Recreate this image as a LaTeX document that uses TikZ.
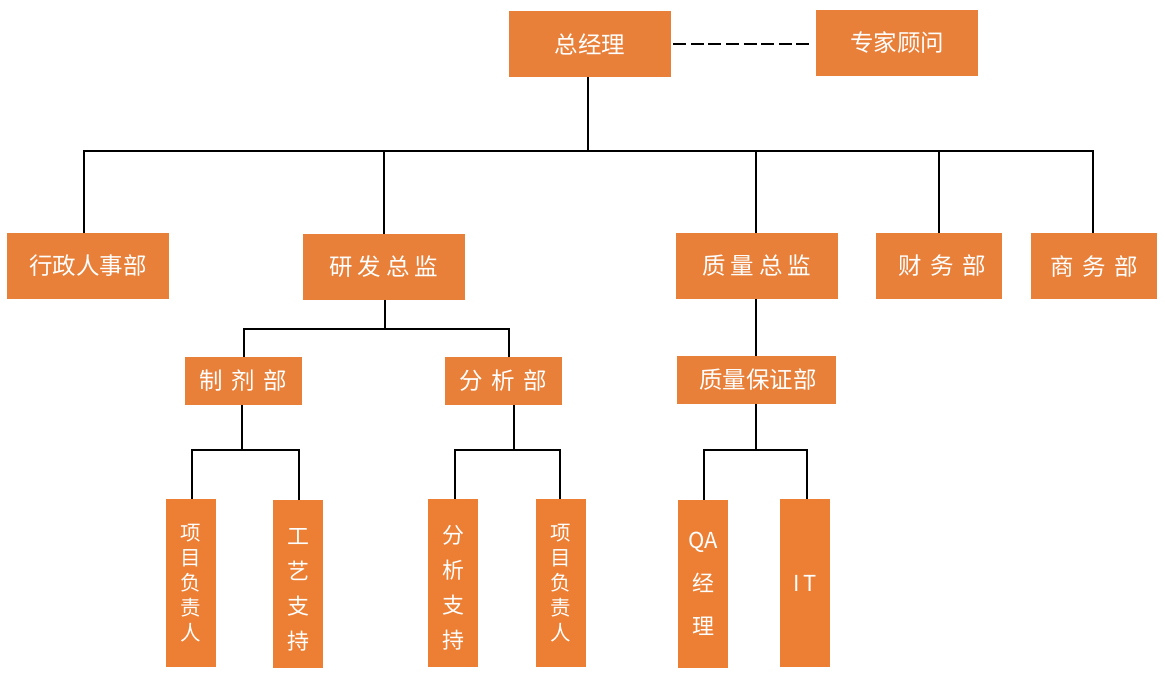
\documentclass[tikz,border=0pt]{standalone}
\usepackage{fontspec}
\setmainfont{Noto Sans CJK SC}
\definecolor{orgA}{HTML}{E8803A}
\definecolor{orgB}{HTML}{EC7F34}
\newcommand{\cgap}[1]{\hspace{#1}}
\tikzset{
  box/.style={fill=orgA, draw=none, text=white, inner sep=0pt,
    font=\fontsize{23.5}{27}\selectfont},
  bigbox/.style={box, minimum width=162pt, minimum height=66pt},
  midbox/.style={box, minimum width=126pt, minimum height=66pt},
  smallbox/.style={box, minimum width=117pt, minimum height=48pt},
  vbox/.style={fill=orgB, draw=none, text=white, inner sep=0pt,
    minimum width=50pt, minimum height=168pt, align=center},
  conn/.style={line width=2pt, black},
  dconn/.style={conn, dash pattern=on 13pt off 4.6pt}
}
\begin{document}
\begin{tikzpicture}[x=1pt,y=-1pt]
  \fill[white] (0,0) rectangle (1165,677);
  \useasboundingbox (0,0) rectangle (1165,677);

  % level 0
  \node[bigbox] (zjl) at (590,44) {总经理};
  \node[bigbox] (zjgw) at (897,43) {专家顾问};

  % level 1
  \node[bigbox] (xz) at (88,266) {行政人事部};
  \node[bigbox] (yf) at (384,267) {研\cgap{5pt}发\cgap{5pt}总\cgap{5pt}监};
  \node[bigbox] (zl) at (757,266) {质\cgap{5pt}量\cgap{5pt}总\cgap{5pt}监};
  \node[midbox] (cw) at (939,266) {\hspace{6pt}财\cgap{8.5pt}务\cgap{8.5pt}部};
  \node[midbox] (sw) at (1094,266) {商\cgap{8.5pt}务\cgap{8.5pt}部};

  % level 2
  \node[smallbox] (zj) at (243.5,381) {制\cgap{8.5pt}剂\cgap{8.5pt}部};
  \node[smallbox] (fx) at (503.5,381) {分\cgap{8.5pt}析\cgap{8.5pt}部};
  \node[box, minimum width=159pt, minimum height=48pt] (zb) at (756.5,380) {\hspace{3pt}质量保证部};

  % level 3
  \node[vbox, font=\fontsize{20.5}{25}\selectfont] (v1) at (191,583) {项\\目\\负\\责\\人};
  \node[vbox, font=\fontsize{22}{35}\selectfont] (v2) at (298,584) {\rule{0pt}{27pt}工\\艺\\支\\持};
  \node[vbox, font=\fontsize{22}{35}\selectfont] (v3) at (453,583) {\rule{0pt}{27pt}分\\析\\支\\持};
  \node[vbox, font=\fontsize{20.5}{25}\selectfont] (v4) at (561,583) {项\\目\\负\\责\\人};
  \node[vbox, font=\fontsize{22}{43}\selectfont] (v5) at (703,584) {QA\\经\\理};
  \node[vbox, font=\fontsize{22}{26}\selectfont] (v6) at (805,583) {I\hspace{4pt}T};

  % bus coordinates
  \coordinate (b1) at (588,151);
  \coordinate (b2) at (385,329);
  \coordinate (b3) at (242,450);
  \coordinate (b4) at (514,450);
  \coordinate (b5) at (756,450);

  % dashed link
  \draw[dconn, shorten <=2pt, shorten >=3pt] (zjl.east) -- (zjl.east -| zjgw.west);

  % level 0 -> 1
  \draw[conn] (b1 |- zjl.south) -- (b1);
  \draw[conn] ([xshift=-4pt]xz.north) |- (b1);
  \draw[conn] (yf.north) |- (b1);
  \draw[conn] ([xshift=-1pt]zl.north) |- (b1);
  \draw[conn] (cw.north) |- (b1);
  \draw[conn] ([xshift=-1pt]sw.north) |- (b1);

  % 研发总监 -> 2
  \draw[conn] (b2 |- yf.south) -- (b2);
  \draw[conn] (zj.north) |- (b2);
  \draw[conn] ([xshift=5.5pt]fx.north) |- (b2);

  % 制剂部 -> 3
  \draw[conn] (b3 |- zj.south) -- (b3);
  \draw[conn] ([xshift=1pt]v1.north) |- (b3);
  \draw[conn] ([xshift=1pt]v2.north) |- (b3);

  % 分析部 -> 3
  \draw[conn] (b4 |- fx.south) -- (b4);
  \draw[conn] ([xshift=2pt]v3.north) |- (b4);
  \draw[conn] ([xshift=-1pt]v4.north) |- (b4);

  % 质量总监 -> 质量保证部 -> 3
  \draw[conn] (b5 |- zl.south) -- (b5 |- zb.north);
  \draw[conn] (b5 |- zb.south) -- (b5);
  \draw[conn] ([xshift=1pt]v5.north) |- (b5);
  \draw[conn] ([xshift=2pt]v6.north) |- (b5);
\end{tikzpicture}
\end{document}
